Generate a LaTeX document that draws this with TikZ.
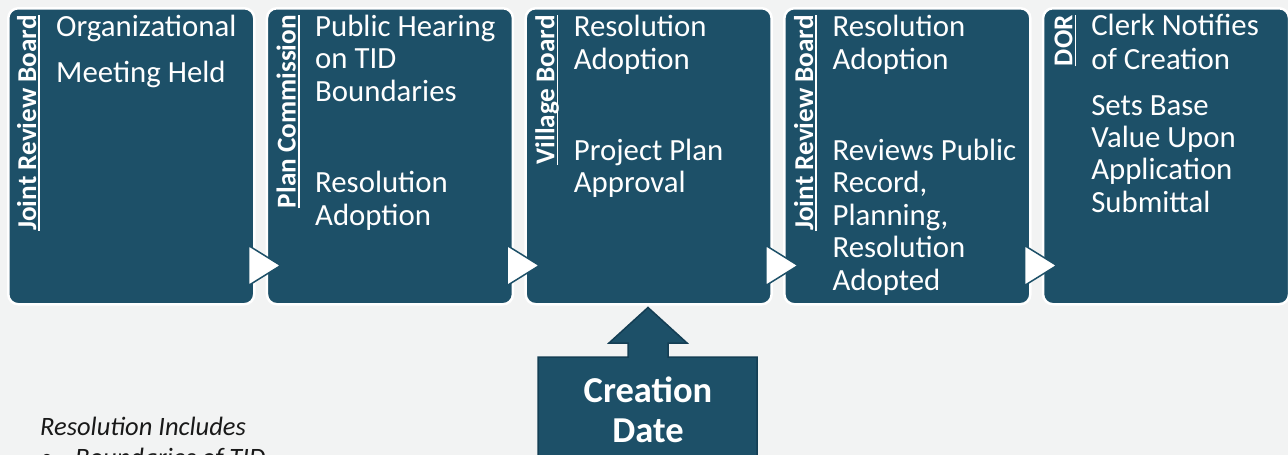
\documentclass[tikz,border=0pt]{standalone}
\usepackage{fontspec}
\setmainfont{Carlito}
\usetikzlibrary{calc}
\definecolor{boxc}{RGB}{29,80,104}
\definecolor{bgc}{RGB}{242,243,243}
\definecolor{edgec}{RGB}{20,62,84}
\definecolor{inkc}{RGB}{25,25,25}
\begin{document}
\begin{tikzpicture}[x=1pt,y=-1pt,
  stage/.style={fill=boxc, draw=white, line width=2.5pt, rounded corners=10pt,
    minimum width=246pt, minimum height=296pt, inner sep=0pt, anchor=north west},
  txt/.style={text=white, font=\fontsize{30.8}{32.6}\selectfont, anchor=base west, inner sep=0pt},
  lbl/.style={text=white, font=\bfseries\fontsize{27.2}{30}\selectfont, rotate=90, anchor=base east, inner sep=0pt},
  ulin/.style={white, line width=1.6pt},
  flow/.style={fill=white, draw=boxc, line width=1.5pt, line join=miter},
  bigarrow/.style={fill=boxc, draw=edgec, line width=1.5pt, line join=miter},
  bigtxt/.style={text=white, font=\bfseries\fontsize{36.5}{40}\selectfont, anchor=base, inner sep=0pt},
  note/.style={text=inkc, font=\itshape\fontsize{26.5}{31}\selectfont, anchor=base west, inner sep=0pt},
]
\fill[bgc] (0,0) rectangle (1288,455);
\clip (0,0) rectangle (1288,455);

% stage boxes
\node[stage] (b1) at (7,7) {};
\node[stage] (b2) at (265.7,7) {};
\node[stage] (b3) at (524.4,7) {};
\node[stage] (b4) at (783.1,7) {};
\node[stage] (b5) at (1041.8,7) {};

% flow triangles between boxes
\draw[flow] ([shift={(-7,-60)}]b1.south east) -- ([shift={(-7,-20)}]b1.south east) -- ([shift={(15,-40)}]b2.south west) -- cycle;
\draw[flow] ([shift={(-7,-60)}]b2.south east) -- ([shift={(-7,-20)}]b2.south east) -- ([shift={(15,-40)}]b3.south west) -- cycle;
\draw[flow] ([shift={(-7,-60)}]b3.south east) -- ([shift={(-7,-20)}]b3.south east) -- ([shift={(15,-40)}]b4.south west) -- cycle;
\draw[flow] ([shift={(-7,-60)}]b4.south east) -- ([shift={(-7,-20)}]b4.south east) -- ([shift={(15,-40)}]b5.south west) -- cycle;

% vertical labels
\node[lbl] (l1) at (36,15) {Joint Review Board};
\node[lbl] (l2) at (295.7,15) {Plan Commission};
\node[lbl] (l3) at (554.4,15) {Village Board};
\node[lbl] (l4) at (813.1,15) {Joint Review Board};
\node[lbl] (l5) at (1072.3,15) {DOR};
\foreach \l in {l1,l2,l3,l4,l5}
  \draw[ulin] ([xshift=3pt]\l.base west) -- ([xshift=3pt]\l.base east);

% box 1
\node[txt] (t11) at (56,36) {Organizational};
\node[txt] (t12) at (56,82) {Meeting Held};
% box 2
\node[txt] (t21) at (315,36) {Public Hearing};
\node[txt] (t22) at (315,68.6) {on TID};
\node[txt] (t23) at (315,101.2) {Boundaries};
\node[txt] (t24) at (315,192.7) {Resolution};
\node[txt] (t25) at (315,225.3) {Adoption};
% box 3
\node[txt] (t31) at (573.7,36.5) {Resolution};
\node[txt] (t32) at (573.7,69.1) {Adoption};
\node[txt] (t33) at (573.7,160) {Project Plan};
\node[txt] (t34) at (573.7,192.6) {Approval};
% box 4
\node[txt] (t41) at (832.4,36.5) {Resolution};
\node[txt] (t42) at (832.4,69.1) {Adoption};
\node[txt] (t43) at (832.4,160) {Reviews Public};
\node[txt] (t44) at (832.4,192.6) {Record,};
\node[txt] (t45) at (832.4,225.2) {Planning,};
\node[txt] (t46) at (832.4,257.8) {Resolution};
\node[txt] (t47) at (832.4,290.4) {Adopted};
% box 5
\node[txt] (t51) at (1091.1,35.5) {Clerk Notifies};
\node[txt] (t52) at (1091.1,69.5) {of Creation};
\node[txt] (t53) at (1091.1,115) {Sets Base};
\node[txt] (t54) at (1091.1,147) {Value Upon};
\node[txt] (t55) at (1091.1,179.5) {Application};
\node[txt] (t56) at (1091.1,212) {Submittal};

% creation date arrow
\coordinate (tip) at ([yshift=-2pt]b3.south -| 648,0);
\draw[bigarrow] (538,357) -- (628,357) -- (628,343) -- (609,343) -- (tip) -- (687,343)
  -- (668,343) -- (668,357) -- (757,357) -- (757,470) -- (538,470) -- cycle;
\node[bigtxt] (c1) at (648,402) {Creation};
\node[bigtxt] (c2) at (648,442) {Date};

% note
\node[note] (n1) at (40,435) {Resolution Includes};
\node[note] (n2) at (40,466) {\textbullet};
\node[note] (n3) at (75,466) {Boundaries of TID};
\end{tikzpicture}
\end{document}
